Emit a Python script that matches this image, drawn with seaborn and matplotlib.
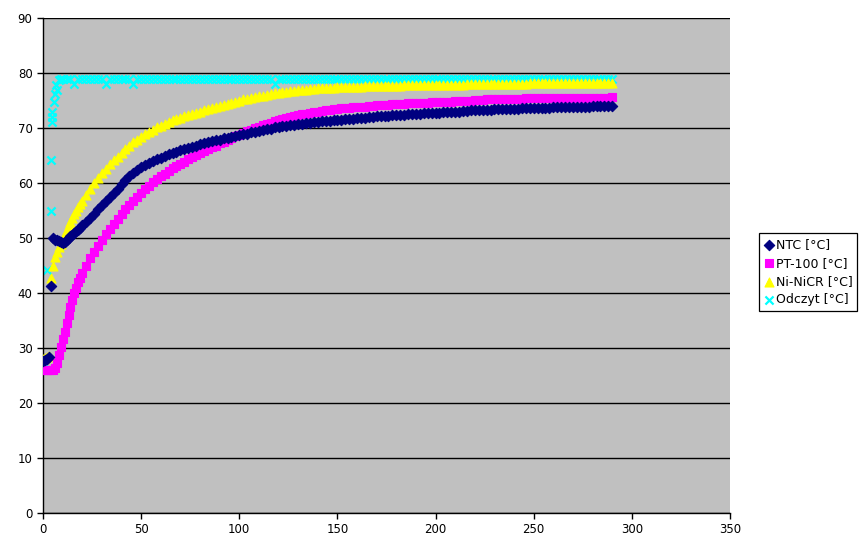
"""
Temperature sensor step response: NTC, PT-100, Ni-NiCR and the reference reading.
"""

import matplotlib
matplotlib.use("Agg")
import numpy as np
import pandas as pd
import matplotlib.pyplot as plt
import seaborn as sns

# time axis [s]: 1 s steps for the fast start, then every 2 s
time_s = list(range(0, 20)) + list(range(20, 292, 2))

ntc = [
    27.6, 27.8, 28.0, 28.3, 41.2, 50.0, 49.7, 49.6, 49.5, 49.3,
    49.1, 49.3, 49.6, 50.0, 50.3, 50.6, 50.9, 51.2, 51.5, 51.9,
    52.3, 53.0, 53.7, 54.4, 55.2, 56.0, 56.8, 57.5, 58.2, 59.0,
    59.8, 60.5, 61.2, 61.8, 62.4, 62.9, 63.3, 63.7, 64.0, 64.3,
    64.6, 64.9, 65.2, 65.5, 65.7, 66.0, 66.2, 66.4, 66.6, 66.8,
    67.1, 67.3, 67.5, 67.6, 67.8, 67.9, 68.1, 68.2, 68.4, 68.5,
    68.7, 68.9, 69.0, 69.2, 69.3, 69.5, 69.6, 69.8, 69.9, 70.1,
    70.2, 70.3, 70.4, 70.5, 70.6, 70.7, 70.8, 70.9, 71.0, 71.1,
    71.1, 71.2, 71.3, 71.3, 71.4, 71.5, 71.5, 71.6, 71.7, 71.7,
    71.8, 71.9, 71.9, 72.0, 72.0, 72.1, 72.1, 72.2, 72.2, 72.3,
    72.3, 72.4, 72.4, 72.5, 72.5, 72.6, 72.6, 72.7, 72.7, 72.7,
    72.8, 72.8, 72.9, 72.9, 73.0, 73.0, 73.0, 73.1, 73.1, 73.2,
    73.2, 73.2, 73.3, 73.3, 73.3, 73.4, 73.4, 73.4, 73.5, 73.5,
    73.5, 73.5, 73.6, 73.6, 73.6, 73.6, 73.7, 73.7, 73.7, 73.7,
    73.8, 73.8, 73.8, 73.8, 73.8, 73.9, 73.9, 73.9, 73.9, 73.9,
    74.0, 74.0, 74.0, 74.0, 74.0, 74.0,
]

pt100 = [
    26.0, 26.0, 26.0, 26.0, 26.0, 26.0, 26.3, 27.3, 28.7, 30.1,
    31.6, 33.0, 34.5, 36.0, 37.4, 38.7, 40.0, 41.0, 42.0, 42.8,
    43.6, 45.0, 46.3, 47.5, 48.6, 49.7, 50.7, 51.7, 52.6, 53.5,
    54.4, 55.2, 56.0, 56.8, 57.5, 58.2, 58.9, 59.5, 60.1, 60.7,
    61.2, 61.7, 62.2, 62.7, 63.1, 63.5, 63.9, 64.3, 64.7, 65.1,
    65.5, 65.8, 66.2, 66.5, 66.8, 67.2, 67.5, 67.9, 68.2, 68.5,
    68.8, 69.1, 69.4, 69.7, 70.0, 70.2, 70.5, 70.7, 71.0, 71.2,
    71.4, 71.6, 71.8, 72.0, 72.2, 72.3, 72.5, 72.6, 72.8, 72.9,
    73.0, 73.1, 73.2, 73.3, 73.4, 73.5, 73.6, 73.6, 73.7, 73.8,
    73.8, 73.9, 73.9, 74.0, 74.0, 74.1, 74.1, 74.2, 74.2, 74.3,
    74.3, 74.4, 74.4, 74.5, 74.5, 74.5, 74.6, 74.6, 74.6, 74.7,
    74.7, 74.7, 74.8, 74.8, 74.8, 74.9, 74.9, 74.9, 75.0, 75.0,
    75.1, 75.1, 75.1, 75.2, 75.2, 75.2, 75.2, 75.3, 75.3, 75.3,
    75.3, 75.3, 75.3, 75.4, 75.4, 75.4, 75.4, 75.4, 75.4, 75.4,
    75.4, 75.5, 75.5, 75.5, 75.5, 75.5, 75.5, 75.5, 75.5, 75.5,
    75.5, 75.5, 75.5, 75.5, 75.5, 75.6,
]

ni_nicr = [
    28.0, 28.2, 28.4, 28.6, 42.7, 45.0, 46.5, 47.5, 48.3, 49.0,
    49.8, 50.7, 51.5, 52.3, 53.0, 53.7, 54.4, 55.0, 55.6, 56.2,
    56.8, 57.9, 59.0, 60.0, 60.9, 61.8, 62.6, 63.4, 64.1, 64.8,
    65.5, 66.2, 66.8, 67.4, 67.9, 68.4, 68.9, 69.3, 69.7, 70.1,
    70.4, 70.8, 71.1, 71.4, 71.7, 71.9, 72.2, 72.4, 72.6, 72.8,
    73.0, 73.2, 73.4, 73.6, 73.8, 74.0, 74.2, 74.4, 74.6, 74.8,
    75.0, 75.2, 75.3, 75.5, 75.6, 75.8, 75.9, 76.0, 76.2, 76.3,
    76.4, 76.5, 76.6, 76.7, 76.8, 76.9, 77.0, 77.0, 77.1, 77.1,
    77.2, 77.2, 77.3, 77.3, 77.3, 77.4, 77.4, 77.4, 77.5, 77.5,
    77.5, 77.5, 77.6, 77.6, 77.6, 77.6, 77.7, 77.7, 77.7, 77.7,
    77.7, 77.7, 77.8, 77.8, 77.8, 77.8, 77.8, 77.8, 77.8, 77.9,
    77.9, 77.9, 77.9, 77.9, 77.9, 77.9, 77.9, 77.9, 78.0, 78.0,
    78.0, 78.0, 78.0, 78.0, 78.0, 78.0, 78.0, 78.0, 78.0, 78.0,
    78.0, 78.0, 78.0, 78.0, 78.1, 78.1, 78.1, 78.1, 78.1, 78.1,
    78.1, 78.1, 78.1, 78.1, 78.1, 78.1, 78.1, 78.1, 78.1, 78.2,
    78.2, 78.2, 78.2, 78.2, 78.2, 78.2,
]

# reference reading: irregular samples during the jump, then every 2 s
odczyt_time = [0, 2.1, 3.9, 4.0, 4.4, 4.5, 4.6, 5.7, 6.2, 6.8, 7.0, 8.0, 9.0] \
    + list(range(10, 292, 2))
odczyt = [
    27.5, 44.1, 55.0, 64.1, 71.1, 72.0, 73.0, 74.8, 76.1, 77.8, 76.9, 78.7, 79.0,
    79, 79, 79, 78, 79, 79, 79, 79, 79, 79,
    79, 78, 79, 79, 79, 79, 79, 79, 78, 79,
    79, 79, 79, 79, 79, 79, 79, 79, 79, 79,
    79, 79, 79, 79, 79, 79, 79, 79, 79, 79,
    79, 79, 79, 79, 79, 79, 79, 79, 79, 79,
    79, 79, 79, 79, 78, 79, 79, 79, 79, 79,
    79, 79, 79, 79, 79, 79, 79, 79, 79, 79,
    79, 79, 79, 79, 79, 79, 79, 79, 79, 79,
    79, 79, 79, 79, 79, 79, 79, 79, 79, 79,
    79, 79, 79, 79, 79, 79, 79, 79, 79, 79,
    79, 79, 79, 79, 79, 79, 79, 79, 79, 79,
    79, 79, 79, 79, 79, 79, 79, 79, 79, 79,
    79, 79, 79, 79, 79, 79, 79, 79, 79, 79,
    79, 79, 79, 79, 79, 79, 79, 79, 79, 79,
    79,
]

labels = ["NTC [°C]", "PT-100 [°C]", "Ni-NiCR [°C]", "Odczyt [°C]"]
x_ticks = [0, 50, 100, 150, 200, 250, 300, 350]
y_ticks = [0, 10, 20, 30, 40, 50, 60, 70, 80, 90]

assert len(ntc) == len(time_s) == len(pt100) == len(ni_nicr)
assert len(odczyt) == len(odczyt_time)

sensors = pd.DataFrame({"t": time_s, "ntc": ntc, "pt100": pt100, "ni_nicr": ni_nicr})
reading = pd.DataFrame({"t": odczyt_time, "odczyt": odczyt})

sns.set_style("white", {
    "axes.facecolor": "#C0C0C0",
    "axes.edgecolor": "black",
    "text.color": "black",
    "xtick.color": "black",
    "ytick.color": "black",
    "axes.labelcolor": "black",
})
plt.rcParams["font.family"] = ["DejaVu Sans"]

fig = plt.figure(figsize=(8.67, 5.48), dpi=100)
ax = fig.add_axes([43 / 867, 35 / 548, 687 / 867, 495 / 548])

# series styles: (column, frame, marker, colour, size, zorder)
styles = [
    ("ntc", sensors, "D", "#000080", 28, 5),
    ("pt100", sensors, "s", "#FF00FF", 36, 4),
    ("ni_nicr", sensors, "^", "#FFFF00", 42, 3),
    ("odczyt", reading, "x", "#00FFFF", 34, 2),
]

for (col, frame, marker, colour, size, z), label in zip(styles, labels):
    if marker == "x":
        sns.scatterplot(data=frame, x="t", y=col, marker=marker, color=colour,
                        s=size, linewidth=1.6, label=label, zorder=z, ax=ax)
    else:
        sns.scatterplot(data=frame, x="t", y=col, marker=marker, color=colour,
                        edgecolor=colour, s=size, linewidth=0.8, label=label,
                        zorder=z, ax=ax)

ax.set_xlim(0, 350)
ax.set_ylim(0, 90)
ax.set_xticks(x_ticks)
ax.set_yticks(y_ticks)
ax.set_xlabel("")
ax.set_ylabel("")
ax.yaxis.grid(True, color="black", linewidth=1)
ax.xaxis.grid(False)
ax.set_axisbelow(True)
for side in ["top", "right"]:
    ax.spines[side].set_visible(False)
ax.spines["left"].set_linewidth(1)
ax.spines["bottom"].set_linewidth(1)
ax.tick_params(axis="both", direction="out", length=4, width=1,
               labelsize=8.5, colors="black", bottom=True, left=True)

handles, labs = ax.get_legend_handles_labels()
leg = ax.legend(handles, labs, loc="center left", bbox_to_anchor=(0.875, 0.503),
                bbox_transform=fig.transFigure, frameon=True, fancybox=False,
                facecolor="white", edgecolor="black", framealpha=1,
                borderaxespad=0, handletextpad=0.05, handlelength=0.9,
                fontsize=9, labelspacing=0.42, borderpad=0.4)
leg.get_frame().set_linewidth(0.9)
for text in leg.get_texts():
    text.set_color("black")

fig.savefig("out.png", dpi=100)
